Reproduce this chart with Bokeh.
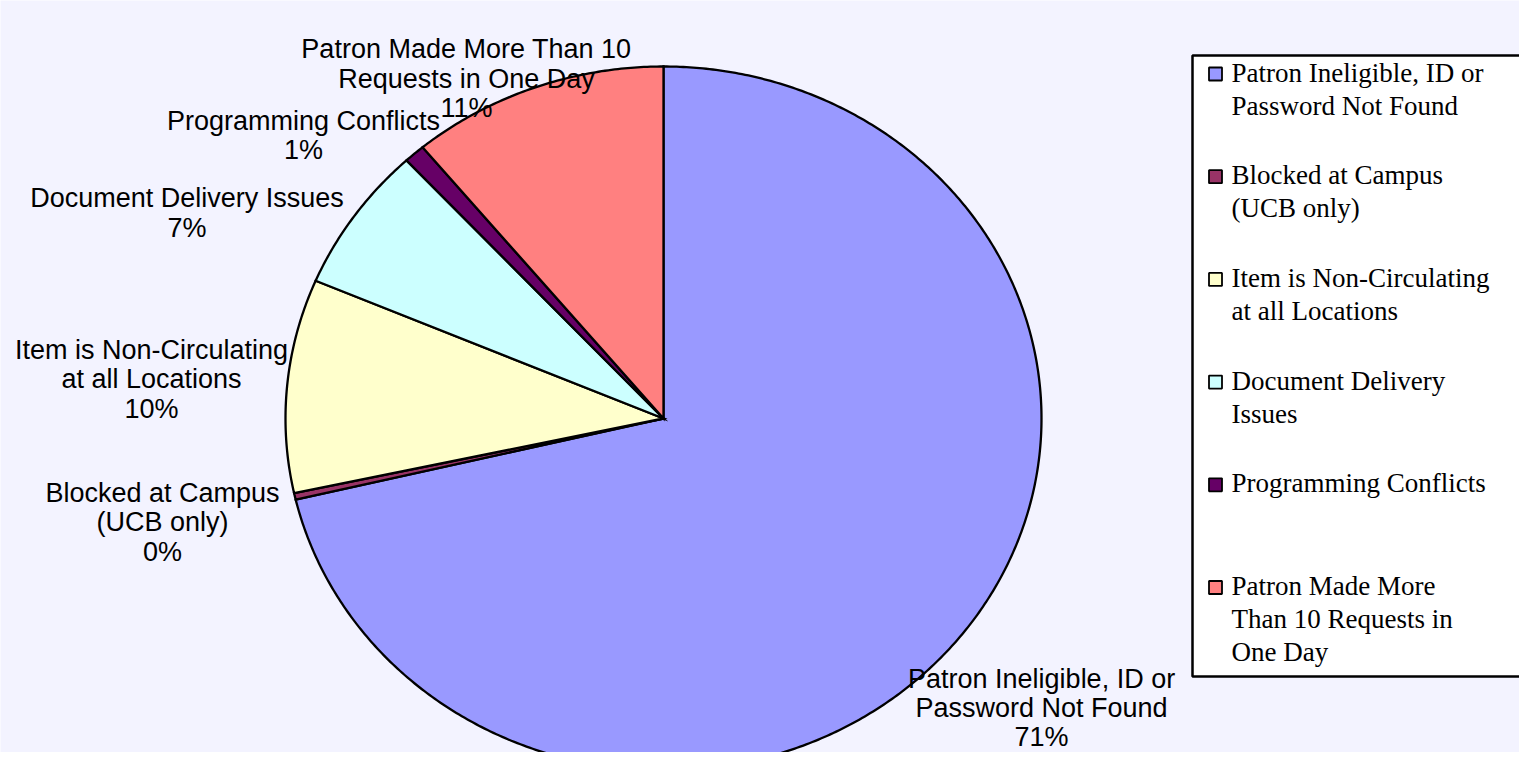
import numpy as np
from bokeh.plotting import figure
from bokeh.models import ColumnDataSource, Range1d
from bokeh.core.properties import value
from bokeh.embed import file_html
from bokeh.resources import INLINE

# ---------------- data ----------------
categories = [
    "Patron Ineligible, ID or Password Not Found",
    "Blocked at Campus (UCB only)",
    "Item is Non-Circulating at all Locations",
    "Document Delivery Issues",
    "Programming Conflicts",
    "Patron Made More Than 10 Requests in One Day",
]
slice_labels = [
    "Patron Ineligible, ID or\nPassword Not Found",
    "Blocked at Campus\n(UCB only)",
    "Item is Non-Circulating\nat all Locations",
    "Document Delivery Issues",
    "Programming Conflicts",
    "Patron Made More Than 10\nRequests in One Day",
]
legend_labels = [
    "Patron Ineligible, ID or\nPassword Not Found",
    "Blocked at Campus\n(UCB only)",
    "Item is Non-Circulating\nat all Locations",
    "Document Delivery\nIssues",
    "Programming Conflicts",
    "Patron Made More\nThan 10 Requests in\nOne Day",
]
shares = [71.3, 0.3, 9.8, 6.7, 0.9, 11.0]
colors = ["#9999FF", "#993366", "#FFFFCC", "#CCFFFF", "#660066", "#FF8080"]

# ---------------- layout ----------------
W, H = 1519, 752
OFF = 0
CX, CY = 663.0, 418.0      # pie centre (px)
RX, RY = 378.0, 352.0      # pie radii (px)
BG = "#F3F3FF"

# label offsets (px) from the slice's mid-angle rim point
label_dx = [81.6, -132.4, -135.7, -167.3, -110.9, -69.0]
label_dy = [71.0, 26.1, -5.9, -3.1, -18.3, -8.8]


def X(px):
    return (px - CX) / RX


def Y(py):
    return (CY - py) / RY


p = figure(width=W, height=H, output_backend="svg", toolbar_location=None,
           x_range=Range1d(X(OFF), X(OFF + W)), y_range=Range1d(Y(OFF + H), Y(OFF)),
           min_border=0, min_border_left=0, min_border_right=0,
           min_border_top=0, min_border_bottom=0)
p.axis.visible = False
p.grid.visible = False
p.outline_line_color = None
p.background_fill_color = BG
p.border_fill_color = BG

total = float(sum(shares))
cum = np.concatenate([[0.0], np.cumsum(shares)]) / total * 2 * np.pi

xs, ys, mids = [], [], []
for i in range(len(shares)):
    a0, a1 = cum[i], cum[i + 1]
    n = max(3, int(np.degrees(a1 - a0)) * 2 + 3)
    t = np.linspace(a0, a1, n)
    xs.append([0.0] + list(np.sin(t)))
    ys.append([0.0] + list(np.cos(t)))
    mids.append((a0 + a1) / 2)

src = ColumnDataSource(dict(xs=xs, ys=ys, color=colors, name=categories))
p.patches("xs", "ys", source=src, fill_color="color", line_color="black",
          line_width=2.3, line_join="miter")

# data labels
lx, ly, lt = [], [], []
for i, m in enumerate(mids):
    px = CX + RX * np.sin(m) + label_dx[i]
    py = CY - RY * np.cos(m) + label_dy[i]
    lx.append(X(px))
    ly.append(Y(py))
    pct = int(round(shares[i] / total * 100))
    lt.append(f"{slice_labels[i]}\n{pct}%")

p.text(x=lx, y=ly, text=lt, text_align="center", text_baseline="middle",
       text_font=value("Liberation Sans"), text_font_size="27px",
       text_line_height=0.975, text_color="black")

# legend box (drawn as glyphs so it sits above the data labels)
p.quad(left=[X(1192)], right=[X(1600)], top=[Y(55)], bottom=[Y(676)],
       fill_color="white", line_color="black", line_width=2.5)

ent_y = [73.5 + i * 102.7 for i in range(len(legend_labels))]
p.rect(x=[X(1215)] * len(ent_y), y=[Y(v) for v in ent_y], width=13, height=13,
       width_units="screen", height_units="screen",
       fill_color=colors, line_color="black", line_width=1.8)
p.text(x=[X(1231)] * len(ent_y), y=[Y(v - 16.5) for v in ent_y], text=legend_labels,
       text_align="left", text_baseline="top",
       text_font=value("Liberation Serif"), text_font_size="27px",
       text_line_height=1.10, text_color="black")

open("out.html", "w").write(file_html(p, INLINE))
